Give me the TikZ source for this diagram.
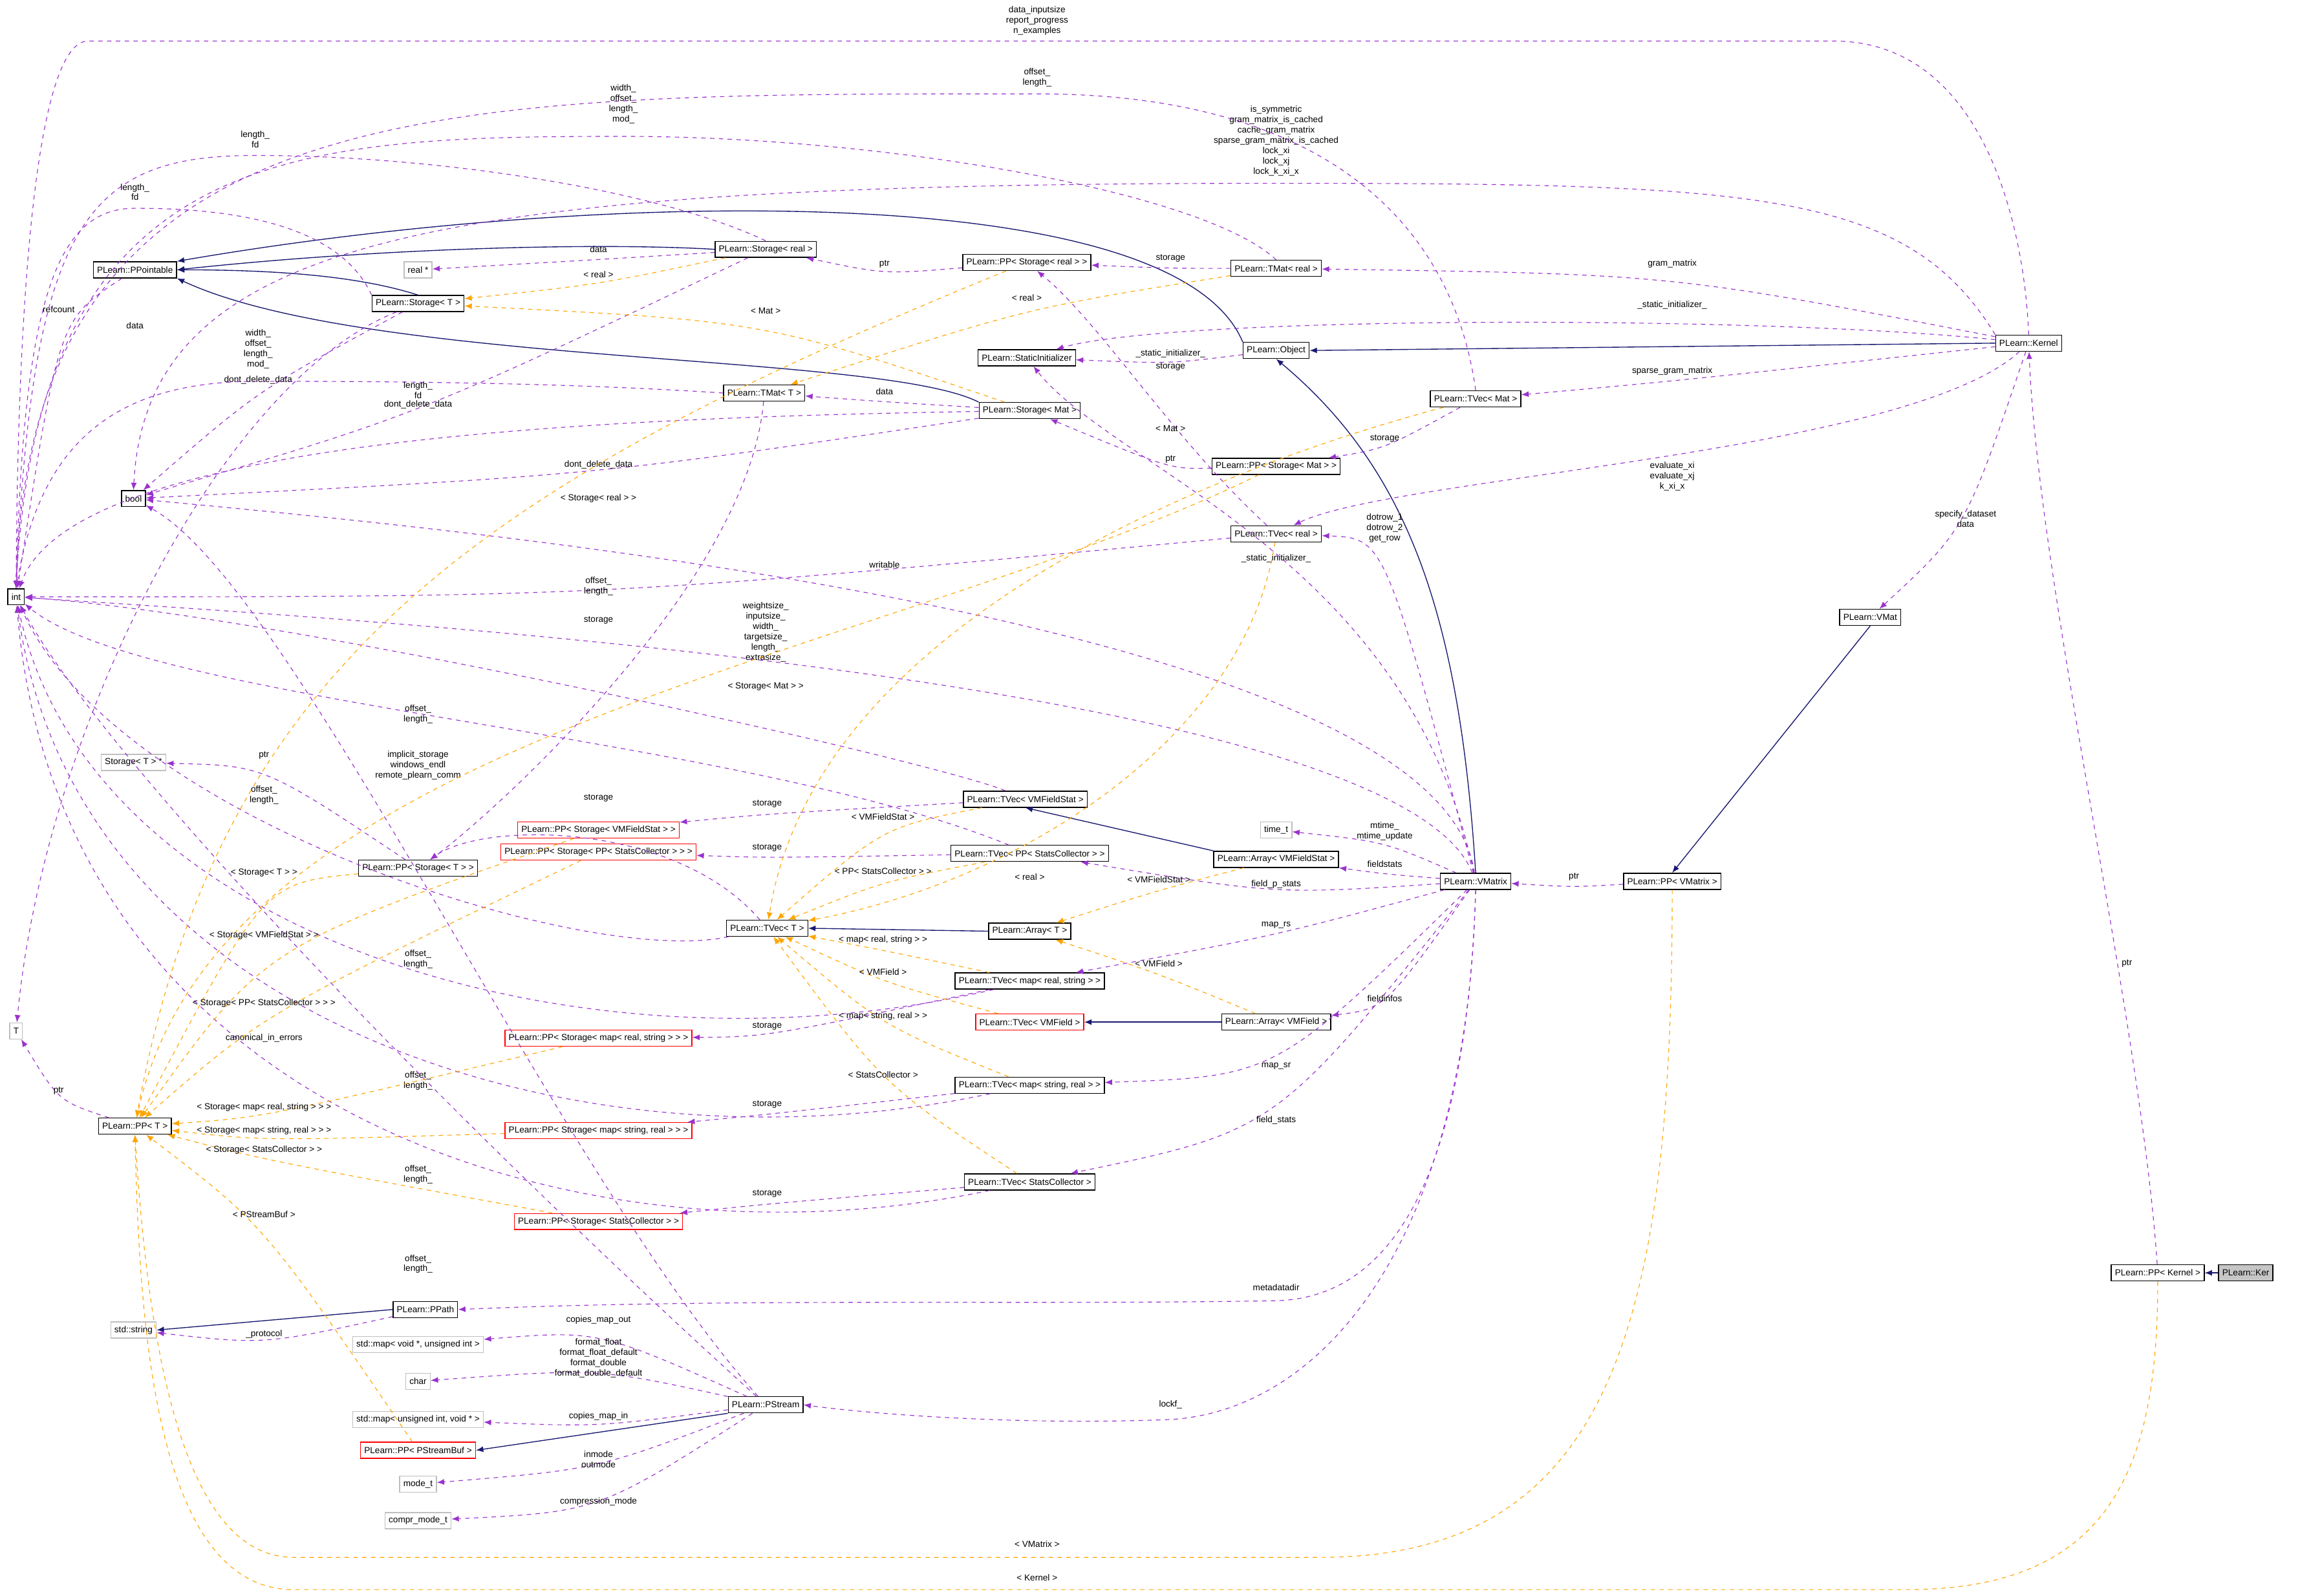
\documentclass[tikz,border=0pt]{standalone}
\usepackage{fontspec}
\setmainfont{Liberation Sans}
\usetikzlibrary{arrows.meta,calc}
\definecolor{pur}{HTML}{9A32CD}
\definecolor{org}{HTML}{FFA500}
\definecolor{nav}{HTML}{191970}
\newcount\lblc
\newcommand\uE[5]{\global\advance\lblc by 1
 \draw[#1] (#2) .. controls ($(#4)+(0,7)$) and ($(#4)+(0,7)$) .. (#3);
 \node[lbl] (lab\the\lblc) at (#4) {#5};}
\newcommand\uEE[7]{\global\advance\lblc by 1
 \draw[#1] (#2) .. controls (#4) and (#5) .. (#3);
 \node[lbl] (lab\the\lblc) at (#6) {#7};}
\newcommand\uP[4]{\global\advance\lblc by 1
 \draw[#1] #2;
 \node[lbl] (lab\the\lblc) at (#3) {#4};}
\begin{document}
\begin{tikzpicture}[x=1pt,y=-1pt,
 every node/.style={font=\fontsize{6}{7}\selectfont},
 box/.style={draw=black,fill=white,line width=0.6pt,inner sep=2.5pt,minimum height=11pt},
 redbox/.style={box,draw=red},
 graybox/.style={box,draw=gray!50},
 lbl/.style={align=center,inner sep=0.5pt},
 inh/.style={draw=nav,line width=0.6pt,-{Latex[length=5pt,width=4pt]}},
 use/.style={draw=pur,dashed,line width=0.5pt,-{Latex[length=5pt,width=4pt]}},
 tmpl/.style={draw=org,dashed,line width=0.5pt,-{Latex[length=5pt,width=4pt]}}]
\fill[white] (0,0) rectangle (1568,1088);
\useasboundingbox (0,0) rectangle (1568,1088);
% nodes
\node[box] (int) at (11,407) {int};
\node[box] (bool) at (91,340) {bool};
\node[graybox] (T) at (11,703) {T};
\node[box] (ppo) at (92,184) {PLearn::PPointable};
\node[graybox] (realp) at (285,184) {real *};
\node[box] (sreal) at (522,170) {PLearn::Storage< real >};
\node[box] (sT) at (285,207) {PLearn::Storage< T >};
\node[box] (ppsreal) at (700,179) {PLearn::PP< Storage< real > >};
\node[box] (tmreal) at (870,183) {PLearn::TMat< real >};
\node[box] (si) at (700,244) {PLearn::StaticInitializer};
\node[box] (obj) at (870,239) {PLearn::Object};
\node[box] (kernel) at (1383,234) {PLearn::Kernel};
\node[box] (tmT) at (521,268) {PLearn::TMat< T >};
\node[box] (smat) at (702,280) {PLearn::Storage< Mat >};
\node[box] (tvmat) at (1006,272) {PLearn::TVec< Mat >};
\node[box] (ppsmat) at (870,318) {PLearn::PP< Storage< Mat > >};
\node[box] (tvreal) at (870,364) {PLearn::TVec< real >};
\node[box] (vmat) at (1275,421) {PLearn::VMat};
\node[graybox] (sTp) at (91,520) {Storage< T > *};
\node[box] (tvvfs) at (699,545) {PLearn::TVec< VMFieldStat >};
\node[redbox] (ppsvfs) at (408,566) {PLearn::PP< Storage< VMFieldStat > >};
\node[redbox] (ppspsc) at (408,581) {PLearn::PP< Storage< PP< StatsCollector > > >};
\node[box] (ppsT) at (285,592) {PLearn::PP< Storage< T > >};
\node[box] (tvpsc) at (702,582) {PLearn::TVec< PP< StatsCollector > >};
\node[graybox] (timet) at (870,566) {time\_t};
\node[box] (avfs) at (870,586) {PLearn::Array< VMFieldStat >};
\node[box] (vmatrix) at (1006,601) {PLearn::VMatrix};
\node[box] (ppvm) at (1140,601) {PLearn::PP< VMatrix >};
\node[box] (tvT) at (523,633) {PLearn::TVec< T >};
\node[box] (arrT) at (702,635) {PLearn::Array< T >};
\node[box] (tvmrs) at (702,669) {PLearn::TVec< map< real, string > >};
\node[redbox] (tvvf) at (702,697) {PLearn::TVec< VMField >};
\node[box] (avf) at (870,697) {PLearn::Array< VMField >};
\node[redbox] (ppsmrs) at (408,708) {PLearn::PP< Storage< map< real, string > > >};
\node[box] (tvmsr) at (702,740) {PLearn::TVec< map< string, real > >};
\node[box] (ppT) at (92,768) {PLearn::PP< T >};
\node[redbox] (ppsmsr) at (408,771) {PLearn::PP< Storage< map< string, real > > >};
\node[box] (tvsc) at (702,806) {PLearn::TVec< StatsCollector >};
\node[redbox] (ppssc) at (408,833) {PLearn::PP< Storage< StatsCollector > >};
\node[box] (ppk) at (1471,868) {PLearn::PP< Kernel >};
\node[box,fill=gray!45] (ker) at (1531,868) {PLearn::Ker};
\node[box] (ppath) at (290,893) {PLearn::PPath};
\node[graybox] (str) at (91,907) {std::string};
\node[graybox] (mapout) at (285,917) {std::map< void *, unsigned int >};
\node[graybox] (chr) at (285,942) {char};
\node[box] (pstream) at (522,958) {PLearn::PStream};
\node[graybox] (mapin) at (285,968) {std::map< unsigned int, void * >};
\node[redbox] (ppsb) at (285,989) {PLearn::PP< PStreamBuf >};
\node[graybox] (modet) at (285,1012) {mode\_t};
\node[graybox] (cmode) at (285,1037) {compr\_mode\_t};
% inheritance
\draw[inh] (sreal.west) .. controls (400,165) and (250,170) .. (ppo.east);
\draw[inh] (sT.north) .. controls (250,190) and (200,184) .. (ppo.east);
\draw[inh] (smat.north west) .. controls (600,240) and (250,250) .. (ppo.south east);
\draw[inh] (obj.north west) .. controls (800,120) and (400,130) .. (ppo.north east);
\draw[inh] (kernel.west) -- (obj.east);
\draw[inh] (vmatrix.north) .. controls (995,420) and (960,320) .. (obj.south);
\draw[inh] (avfs.north west) -- (tvvfs.south);
\draw[inh] (arrT.west) -- (tvT.east);
\draw[inh] (avf.west) -- (tvvf.east);
\draw[inh] (vmat.south) -- (ppvm.north);
\draw[inh] (ker.west) -- (ppk.east);
\draw[inh] (ppath.west) -- (str.east);
\draw[inh] (pstream.south west) -- (ppsb.east);
% usage
\uE{use}{ppo}{int}{40,211}{refcount}
\uE{use}{sreal}{realp}{408,170}{data}
\uP{use}{(sreal.north) .. controls (450,130) and (300,106) .. (174,106) .. controls (60,106) and (22,150) .. (int.north)}{174,95}{length\_\\fd}
\uE{use}{sreal}{bool}{285,276}{dont\_delete\_data}
\uP{use}{(sT.north west) .. controls (230,150) and (150,142) .. (92,142) .. controls (40,142) and (16,200) .. (int.north)}{92,131}{length\_\\fd}
\uE{use}{sT}{bool}{176,259}{dont\_delete\_data}
\uEE{use}{sT}{T}{150,260}{30,500}{92,222}{data}
\uE{use}{ppsreal}{sreal}{603,180}{ptr}
\uE{use}{tmreal}{ppsreal}{798,176}{storage}
\uP{use}{(tmreal.north) .. controls (820,130) and (600,93) .. (425,93) .. controls (200,93) and (26,100) .. (int.north)}{425,71}{width\_\\offset\_\\length\_\\mod\_}
\uP{use}{(tmT.west) .. controls (400,262) and (300,260) .. (176,260) .. controls (80,260) and (28,300) .. (int.north)}{176,238}{width\_\\offset\_\\length\_\\mod\_}
\uEE{use}{tmT}{ppsT}{510,400}{330,560}{408,423}{storage}
\uE{use}{smat}{tmT}{603,267}{data}
\uEE{use}{smat}{int}{400,285}{50,300}{285,266}{length\_\\fd}
\uE{use}{smat}{bool}{408,317}{dont\_delete\_data}
\uE{use}{obj}{si}{798,241}{\_static\_initializer\_}
\uEE{use}{kernel}{si}{1200,215}{800,215}{1140,208}{\_static\_initializer\_}
\uE{use}{kernel}{tmreal}{1140,180}{gram\_matrix}
\uE{use}{kernel}{tvmat}{1140,253}{sparse\_gram\_matrix}
\uP{use}{(kernel.north west) .. controls (1300,130) and (1200,125) .. (870,125) .. controls (300,125) and (100,160) .. (bool.north)}{870,96}{is\_symmetric\\gram\_matrix\_is\_cached\\cache\_gram\_matrix\\sparse\_gram\_matrix\_is\_cached\\lock\_xi\\lock\_xj\\lock\_k\_xi\_x}
\uP{use}{(kernel.north) .. controls (1380,150) and (1350,28) .. (1250,28) -- (60,28) .. controls (25,28) and (12,200) .. (int.north)}{707,14}{data\_inputsize\\report\_progress\\n\_examples}
\uEE{use}{kernel}{tvreal}{1300,310}{950,325}{1140,325}{evaluate\_xi\\evaluate\_xj\\k\_xi\_x}
\uE{use}{kernel}{vmat}{1340,354}{specify\_dataset\\data}
\uE{use}{tvmat}{ppsmat}{944,299}{storage}
\uP{use}{(tvmat.north) .. controls (990,150) and (900,64) .. (707,64) .. controls (300,64) and (20,60) .. (int.north)}{707,53}{offset\_\\length\_}
\uE{use}{ppsmat}{smat}{798,313}{ptr}
\uEE{use}{tvreal}{ppsreal}{800,300}{750,220}{798,250}{storage}
\uE{use}{tvreal}{int}{408,400}{offset\_\\length\_}
\uE{use}{vmatrix}{tvreal}{944,360}{dotrow\_1\\dotrow\_2\\get\_row}
\uEE{use}{vmatrix}{si}{960,380}{760,320}{870,381}{\_static\_initializer\_}
\uEE{use}{vmatrix}{bool}{980,420}{300,360}{603,385}{writable}
\uEE{use}{vmatrix}{int}{950,460}{200,420}{522,431}{weightsize\_\\inputsize\_\\width\_\\targetsize\_\\length\_\\extrasize\_}
\uE{use}{vmatrix}{timet}{944,567}{mtime\_\\mtime\_update}
\uE{use}{vmatrix}{avfs}{944,589}{fieldstats}
\uE{use}{vmatrix}{tvpsc}{870,603}{field\_p\_stats}
\uE{use}{vmatrix}{tvmrs}{870,631}{map\_rs}
\uE{use}{vmatrix}{avf}{944,681}{fieldinfos}
\uE{use}{vmatrix}{tvmsr}{870,727}{map\_sr}
\uE{use}{vmatrix}{tvsc}{870,764}{field\_stats}
\uP{use}{(vmatrix.south) .. controls (1000,800) and (950,885) .. (870,887) .. controls (700,890) and (500,885) .. (ppath.east)}{870,878}{metadatadir}
\uP{use}{(vmatrix.south) .. controls (1000,850) and (900,962) .. (798,968) .. controls (700,972) and (600,965) .. (pstream.east)}{798,958}{lockf\_}
\uE{use}{ppvm}{vmatrix}{1073,598}{ptr}
\uEE{use}{ppk}{kernel}{1460,700}{1390,400}{1450,657}{ptr}
\uE{use}{tvvfs}{ppsvfs}{523,548}{storage}
\uEE{use}{tvvfs}{int}{640,520}{200,420}{285,487}{offset\_\\length\_}
\uE{use}{tvpsc}{ppspsc}{523,578}{storage}
\uEE{use}{tvpsc}{int}{500,500}{100,480}{180,542}{offset\_\\length\_}
\uE{use}{ppsT}{sTp}{180,515}{ptr}
\uEE{use}{tvT}{ppsT}{460,560}{330,560}{408,544}{storage}
\uEE{use}{tvT}{int}{400,660}{80,560}{285,654}{offset\_\\length\_}
\uE{use}{tvmrs}{ppsmrs}{523,700}{storage}
\uEE{use}{tvmrs}{int}{400,740}{60,640}{285,737}{offset\_\\length\_}
\uE{use}{tvmsr}{ppsmsr}{523,753}{storage}
\uEE{use}{tvmsr}{int}{400,805}{50,700}{285,801}{offset\_\\length\_}
\uE{use}{tvsc}{ppssc}{523,814}{storage}
\uEE{use}{tvsc}{int}{400,870}{40,760}{285,862}{offset\_\\length\_}
\uE{use}{ppT}{T}{40,744}{ptr}
\uE{use}{ppath}{str}{180,910}{\_protocol}
\uE{use}{pstream}{mapout}{408,900}{copies\_map\_out}
\uE{use}{pstream}{chr}{408,926}{format\_float\\format\_float\_default\\format\_double\\format\_double\_default}
\uE{use}{pstream}{mapin}{408,966}{copies\_map\_in}
\uE{use}{pstream}{modet}{408,995}{inmode\\outmode}
\uE{use}{pstream}{cmode}{408,1024}{compression\_mode}
\uEE{use}{pstream}{bool}{380,800}{200,400}{285,522}{implicit\_storage\\windows\_endl\\remote\_plearn\_comm}
\uEE{use}{pstream}{int}{260,720}{60,500}{180,708}{canonical\_in\_errors}
% templates
\uE{tmpl}{sreal}{sT}{408,187}{< real >}
\uE{tmpl}{smat}{sT}{522,212}{< Mat >}
\uE{tmpl}{tmreal}{tmT}{700,203}{< real >}
\uEE{tmpl}{ppsreal}{ppT}{330,330}{150,450}{408,340}{< Storage< real > >}
\uEE{tmpl}{ppsmat}{ppT}{600,450}{150,500}{522,468}{< Storage< Mat > >}
\uE{tmpl}{ppsT}{ppT}{180,595}{< Storage< T > >}
\uE{tmpl}{ppsvfs}{ppT}{180,638}{< Storage< VMFieldStat > >}
\uE{tmpl}{ppspsc}{ppT}{180,684}{< Storage< PP< StatsCollector > > >}
\uE{tmpl}{ppsmrs}{ppT}{180,755}{< Storage< map< real, string > > >}
\uE{tmpl}{ppsmsr}{ppT}{180,771}{< Storage< map< string, real > > >}
\uE{tmpl}{ppssc}{ppT}{180,784}{< Storage< StatsCollector > >}
\uE{tmpl}{ppsb}{ppT}{180,828}{< PStreamBuf >}
\uP{tmpl}{(ppvm.south) .. controls (1140,900) and (1100,1062) .. (900,1062) -- (200,1062) .. controls (120,1062) and (100,900) .. (ppT.south)}{707,1053}{< VMatrix >}
\uP{tmpl}{(ppk.south) .. controls (1471,1000) and (1440,1084) .. (1300,1084) -- (200,1084) .. controls (105,1084) and (95,900) .. (ppT.south)}{707,1076}{< Kernel >}
\uEE{tmpl}{tvmat}{tvT}{900,300}{560,400}{798,292}{< Mat >}
\uEE{tmpl}{tvreal}{tvT}{850,500}{700,600}{702,598}{< real >}
\uE{tmpl}{tvvfs}{tvT}{602,557}{< VMFieldStat >}
\uE{tmpl}{tvpsc}{tvT}{602,594}{< PP< StatsCollector > >}
\uE{tmpl}{tvmrs}{tvT}{602,641}{< map< real, string > >}
\uE{tmpl}{tvvf}{tvT}{602,663}{< VMField >}
\uE{tmpl}{tvmsr}{tvT}{602,693}{< map< string, real > >}
\uE{tmpl}{tvsc}{tvT}{602,733}{< StatsCollector >}
\uE{tmpl}{avfs}{arrT}{790,600}{< VMFieldStat >}
\uE{tmpl}{avf}{arrT}{790,657}{< VMField >}
\end{tikzpicture}
\end{document}
